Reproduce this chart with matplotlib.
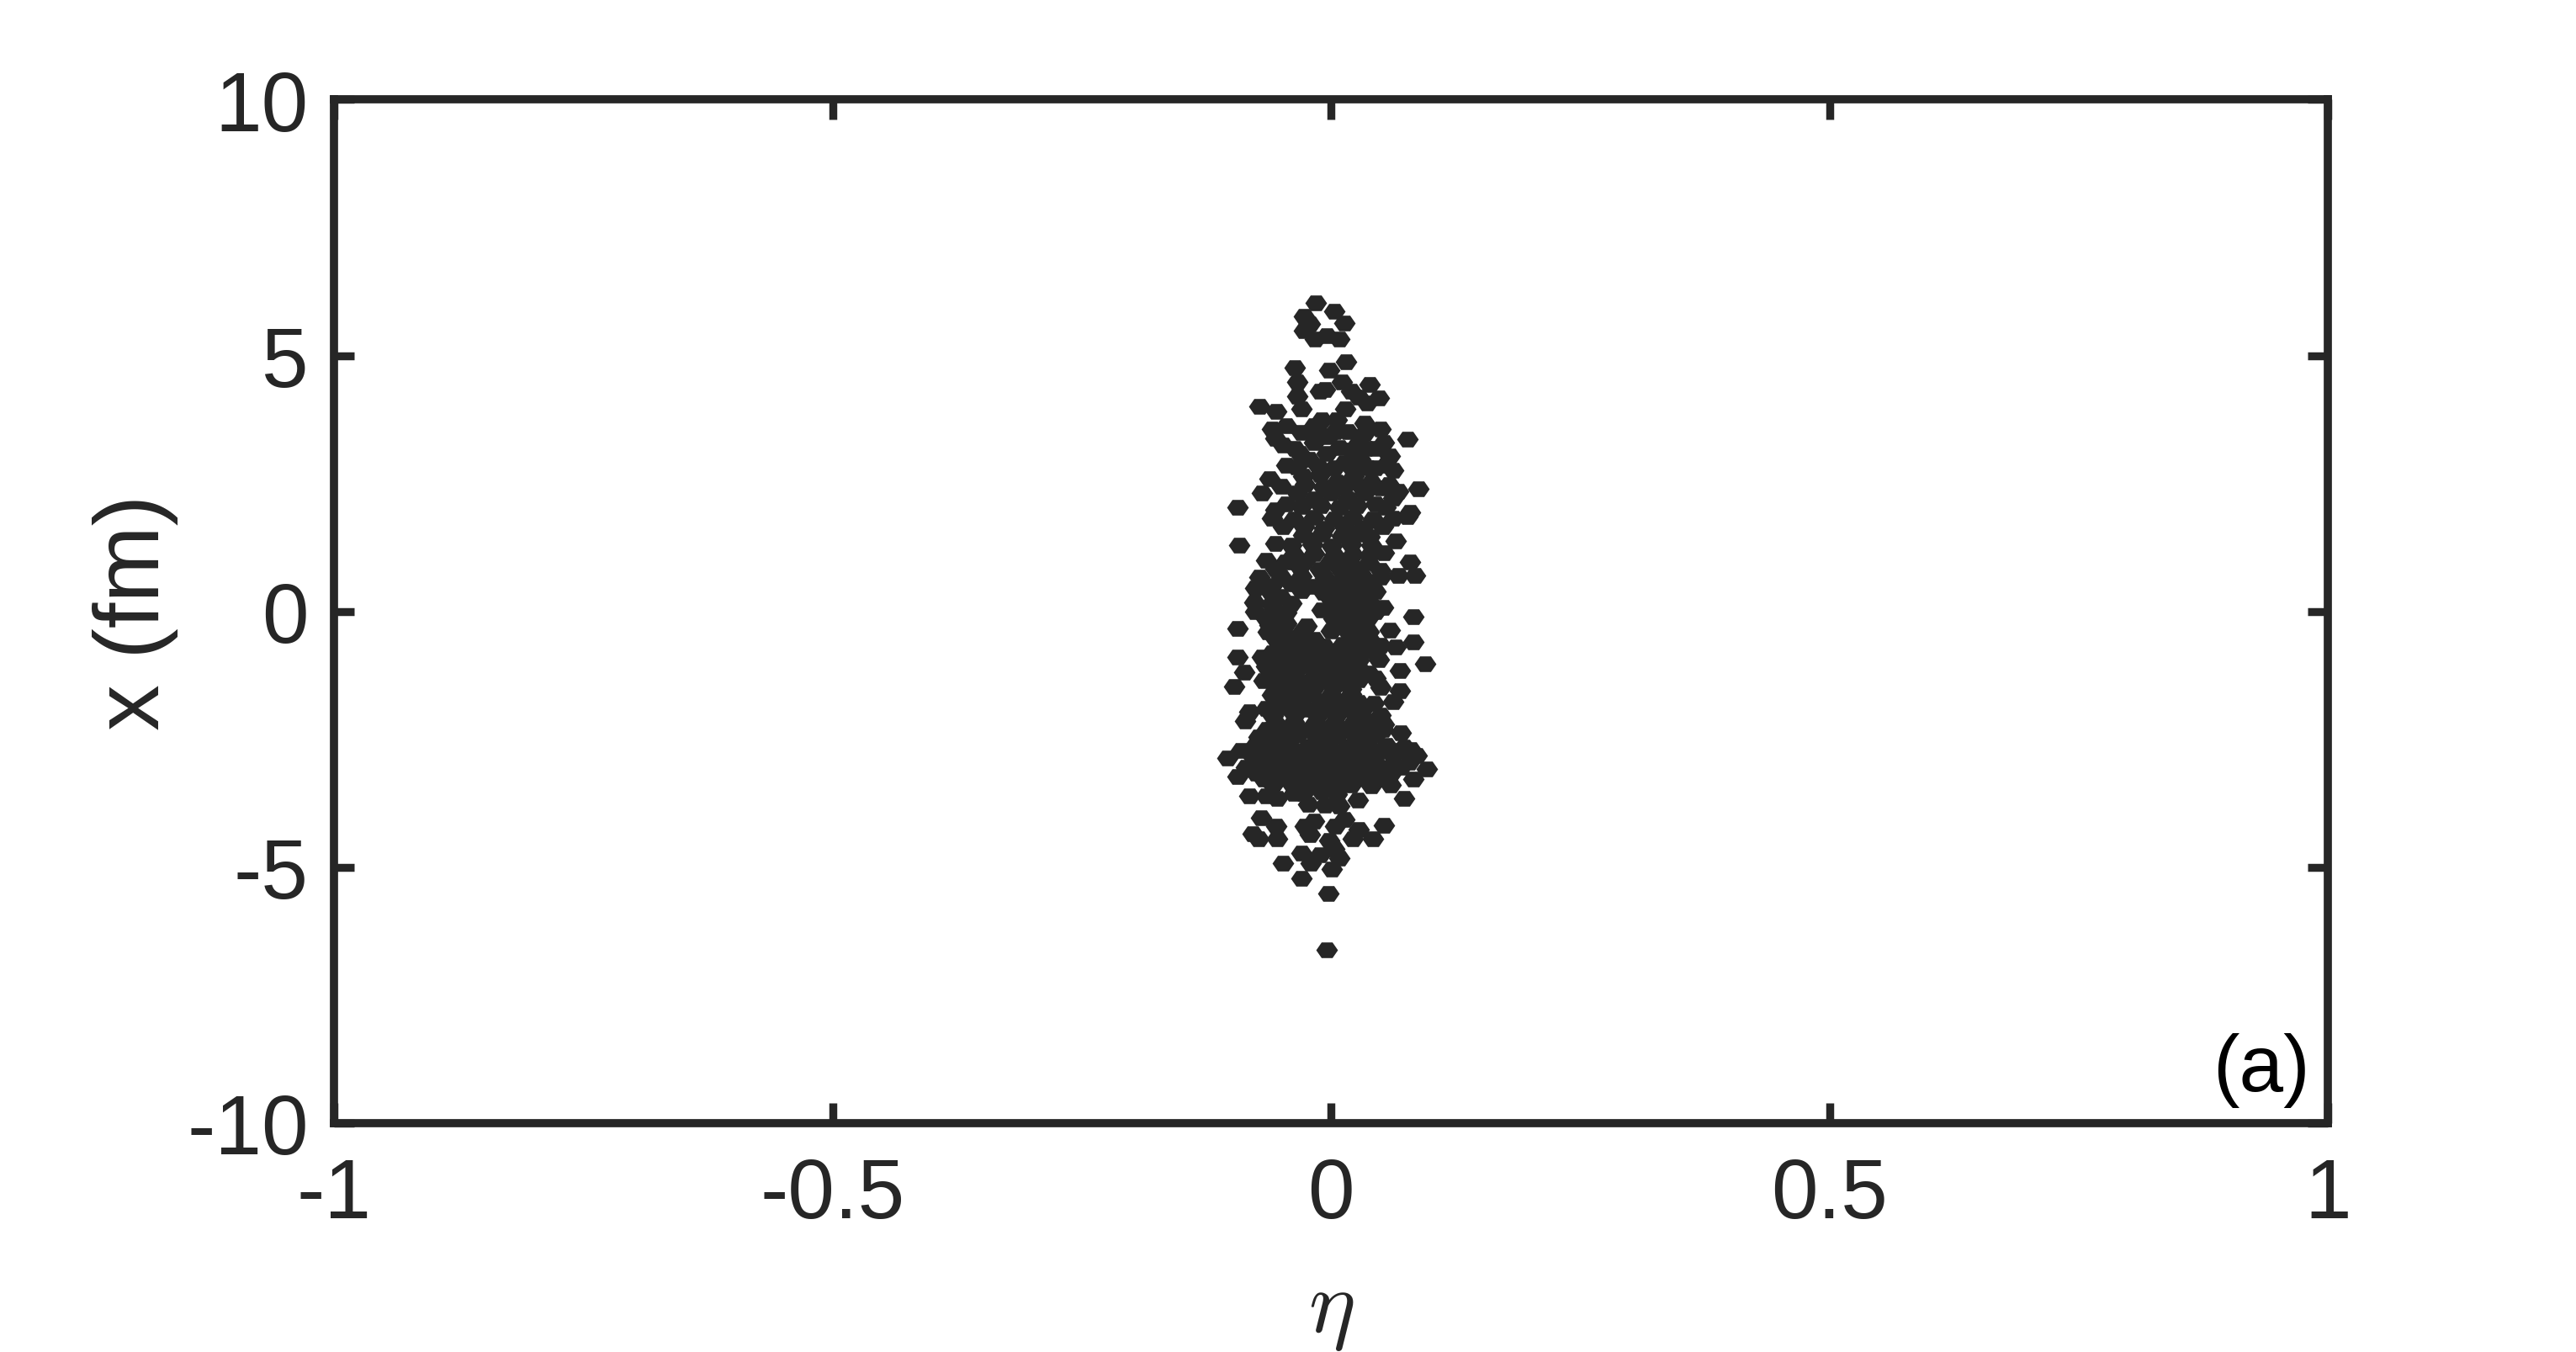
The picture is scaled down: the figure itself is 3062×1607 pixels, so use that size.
import matplotlib
matplotlib.use("Agg")
import matplotlib.pyplot as plt
from matplotlib.path import Path
import numpy as np

plt.rcParams['font.family'] = ['Liberation Sans', 'DejaVu Sans']
plt.rcParams['axes.unicode_minus'] = False
plt.rcParams['mathtext.fontset'] = 'cm'

# ---- data: (eta, x [fm]) ----
upper_pts = [
    (-0.015, 6.03), (0.003, 5.86), (-0.027, 5.77), (0.013, 5.64), (-0.021, 5.62),
    (-0.027, 5.49), (-0.016, 5.33), (-0.004, 5.38), (0.008, 5.33),
    (-0.036, 4.77), (-0.002, 4.72), (0.015, 4.88), (0.039, 4.44), (-0.034, 4.48),
    (-0.011, 4.31), (0.011, 4.48), (0.048, 4.17),
    (-0.072, 4.01), (-0.055, 3.90), (-0.034, 4.20), (-0.006, 4.34), (0.020, 4.31),
    (0.028, 4.18), (0.036, 4.07), (0.014, 3.96), (-0.030, 3.96),
]

mid_upper_pts = [
    (-0.045, 3.63), (-0.059, 3.57), (-0.056, 3.38), (-0.048, 3.25), (-0.017, 3.63),
    (-0.009, 3.74), (0.006, 3.74), (0.034, 3.68), (0.050, 3.57), (0.053, 3.30),
    (0.045, 3.19), (0.059, 3.03), (0.062, 2.75), (0.062, 2.21), (0.079, 1.93),
    (0.077, 3.36), (0.088, 2.40),
    (-0.045, 2.86), (-0.062, 2.59), (-0.069, 2.31), (-0.056, 1.98), (-0.045, 2.10),
    (-0.031, 3.08), (-0.094, 2.03),
    (-0.017, 3.30), (-0.003, 3.41), (0.017, 3.52), (0.028, 3.30), (-0.022, 2.97),
    (-0.004, 3.08), (0.013, 2.90), (0.029, 2.97), (0.045, 2.80), (-0.028, 2.64),
    (-0.011, 2.67), (0.006, 2.53), (0.023, 2.64), (0.040, 2.53), (-0.034, 2.31),
    (-0.017, 2.20), (0.000, 2.31), (0.017, 2.20), (0.034, 2.31), (0.050, 2.42),
    (0.045, 2.10), (0.067, 2.35),
]

mid_upper_fill_pts = [
    (-0.030, 3.50), (-0.012, 3.50), (0.004, 3.52), (0.034, 3.48),
    (-0.036, 3.18), (0.008, 3.20), (0.020, 3.16), (0.035, 3.18),
    (-0.035, 2.82), (-0.013, 2.84), (0.003, 2.80), (0.020, 2.83), (0.037, 2.81), (0.055, 2.85),
    (-0.050, 2.45), (-0.026, 2.47), (-0.008, 2.43), (0.014, 2.46), (0.030, 2.44), (0.058, 2.47),
    (-0.030, 2.05), (-0.010, 2.07), (0.008, 2.03), (0.026, 2.06), (0.055, 2.04),
]

middle_edge_pts = [
    (0.077, 1.85), (-0.092, 1.30), (-0.056, 1.33), (-0.065, 1.00), (0.065, 1.38),
    (0.079, 0.97), (0.084, 0.70), (0.067, 0.70), (-0.072, 0.67), (-0.076, 0.45),
    (-0.077, 0.18), (-0.076, -0.01), (0.083, -0.11), (0.052, 0.07), (-0.094, -0.34),
    (-0.063, -0.40), (0.059, -0.37), (0.083, -0.60), (0.065, -0.70), (-0.094, -0.89),
    (-0.069, -0.89), (0.094, -1.02), (0.069, -1.15), (-0.087, -1.19), (0.045, -1.30),
    (-0.097, -1.47), (0.069, -1.55), (0.043, -1.79), (-0.082, -1.96), (-0.086, -2.15),
    (0.070, -2.37), (-0.073, -2.45),
]

middle_core_pts = [
    (-0.059, 1.82), (-0.037, 1.80), (-0.017, 1.83), (0.003, 1.81), (0.022, 1.84), (0.042, 1.80), (0.062, 1.82),
    (-0.028, 1.49), (-0.009, 1.51), (0.011, 1.47), (0.028, 1.50), (0.039, 1.46),
    (-0.037, 1.11), (-0.017, 1.13), (0.003, 1.09), (0.022, 1.12), (0.039, 1.10), (0.053, 1.14),
    (-0.056, 0.84), (-0.031, 0.86), (-0.011, 0.82), (0.008, 0.85), (0.028, 0.83), (0.050, 0.80),
    (-0.059, 0.51), (-0.040, 0.53), (-0.017, 0.49), (0.003, 0.52), (0.022, 0.50), (0.039, 0.54),
    (-0.051, 0.29), (-0.003, 0.30), (0.017, 0.27), (0.034, 0.31),
    (-0.056, 0.01), (-0.045, -0.02), (-0.009, 0.02), (0.011, 0.00), (0.028, 0.03), (0.045, -0.01),
    (-0.062, -0.26), (-0.045, -0.24), (-0.025, -0.28), (0.011, -0.25), (0.028, -0.27),
    (-0.056, -0.53), (-0.037, -0.51), (-0.017, -0.55), (0.022, -0.52), (0.039, -0.54),
    (-0.059, -0.81), (-0.040, -0.79), (-0.020, -0.83), (0.000, -0.80), (0.020, -0.82), (0.039, -0.78),
    (-0.065, -1.08), (-0.045, -1.10), (-0.025, -1.06), (-0.006, -1.09), (0.014, -1.07), (0.028, -1.11),
    (-0.068, -1.36), (-0.048, -1.34), (-0.028, -1.38), (-0.009, -1.35), (0.011, -1.37), (0.028, -1.33),
    (-0.059, -1.63), (-0.040, -1.65), (-0.020, -1.61), (0.000, -1.64), (0.020, -1.62),
    (-0.065, -1.90), (-0.045, -1.88), (-0.023, -1.92), (-0.003, -1.89), (0.017, -1.91), (0.034, -1.87),
    (-0.056, -2.18), (-0.037, -2.16), (-0.017, -2.20), (0.003, -2.17), (0.022, -2.19), (0.039, -2.15), (0.053, -2.20),
    (-0.054, -2.45), (-0.034, -2.43), (-0.014, -2.47), (0.006, -2.44), (0.025, -2.46), (0.045, -2.42),
]

middle_fill_pts = [
    (-0.048, 1.65), (-0.027, 1.66), (-0.007, 1.63), (0.013, 1.66), (0.032, 1.64), (0.052, 1.65),
    (-0.040, 1.30), (-0.019, 1.31), (0.001, 1.28), (0.020, 1.31), (0.040, 1.29),
    (-0.046, 0.97), (-0.026, 0.98), (-0.001, 0.96), (0.018, 0.98), (0.038, 0.95),
    (-0.050, 0.67), (-0.030, 0.68), (-0.006, 0.66), (0.013, 0.69), (0.033, 0.66), (0.050, 0.67),
    (-0.062, 0.40), (-0.030, 0.41), (-0.008, 0.38), (0.012, 0.40), (0.030, 0.42), (0.045, 0.39),
    (-0.060, 0.15), (-0.040, 0.16), (0.006, 0.14), (0.025, 0.16), (0.040, 0.13),
    (-0.066, -0.12), (-0.050, -0.11), (0.002, -0.13), (0.020, -0.11), (0.037, -0.14),
    (-0.050, -0.40), (-0.030, -0.41), (0.000, -0.39), (0.018, -0.42), (0.038, -0.40),
    (-0.046, -0.67), (-0.027, -0.66), (-0.007, -0.68), (0.012, -0.65), (0.031, -0.68), (0.050, -0.66),
    (-0.052, -0.95), (-0.032, -0.94), (-0.012, -0.96), (0.008, -0.93), (0.028, -0.96), (0.048, -0.94),
    (-0.057, -1.22), (-0.036, -1.21), (-0.016, -1.23), (0.004, -1.20), (0.021, -1.23), (0.038, -1.21),
    (-0.054, -1.50), (-0.036, -1.49), (-0.018, -1.51), (0.002, -1.48), (0.020, -1.51), (0.050, -1.49),
    (-0.052, -1.77), (-0.031, -1.76), (-0.010, -1.78), (0.010, -1.75), (0.028, -1.78), (0.062, -1.76),
    (-0.058, -2.04), (-0.036, -2.03), (-0.014, -2.05), (0.006, -2.02), (0.026, -2.05), (0.050, -2.03),
    (-0.064, -2.31), (-0.046, -2.30), (-0.026, -2.32), (-0.006, -2.29), (0.014, -2.32), (0.032, -2.30), (0.052, -2.31),
]

lower_edge_pts = [
    (-0.104, -2.86), (-0.094, -3.22), (-0.076, -2.62), (0.086, -2.81), (0.096, -3.08),
    (0.083, -3.27), (0.073, -3.66), (-0.082, -3.60), (-0.054, -3.66), (0.027, -3.68),
    (-0.070, -4.04), (-0.055, -4.20), (-0.079, -4.34), (-0.073, -4.45), (-0.054, -4.45),
    (-0.026, -4.20), (-0.017, -4.10), (0.013, -4.07), (0.004, -4.20), (0.028, -4.26),
    (0.022, -4.45), (0.042, -4.45), (0.053, -4.18), (-0.021, -4.37), (-0.002, -4.48),
    (0.003, -4.64), (-0.030, -4.72), (-0.011, -4.75), (0.008, -4.83), (-0.020, -4.92),
    (-0.048, -4.92), (0.001, -5.03), (-0.030, -5.22), (-0.003, -5.52), (-0.004, -6.61),
]

lower_core_pts = [
    (-0.062, -2.62), (-0.042, -2.60), (-0.023, -2.64), (-0.003, -2.61), (0.017, -2.63), (0.036, -2.59), (0.056, -2.62), (0.073, -2.65),
    (-0.079, -2.83), (-0.059, -2.85), (-0.040, -2.81), (-0.020, -2.84), (0.000, -2.82), (0.020, -2.86), (0.039, -2.83), (0.062, -2.80),
    (-0.085, -3.05), (-0.065, -3.03), (-0.045, -3.07), (-0.025, -3.04), (-0.006, -3.06), (0.014, -3.02), (0.034, -3.05), (0.053, -3.08), (0.070, -3.04),
    (-0.068, -3.27), (-0.048, -3.25), (-0.028, -3.29), (-0.009, -3.26), (0.011, -3.28), (0.031, -3.24), (0.050, -3.27),
    (-0.065, -3.60), (-0.037, -3.56), (-0.028, -3.55), (-0.009, -3.53), (0.006, -3.57),
    (-0.023, -3.77), (-0.006, -3.79), (0.008, -3.80),
    (-0.090, -2.72), (-0.069, -2.73), (-0.050, -2.71), (-0.030, -2.74), (-0.010, -2.72), (0.010, -2.73), (0.030, -2.71), (0.050, -2.74), (0.068, -2.72), (0.080, -2.70),
    (-0.075, -2.94), (-0.055, -2.95), (-0.035, -2.93), (-0.015, -2.96), (0.004, -2.94), (0.024, -2.95), (0.044, -2.93), (0.062, -2.96), (0.078, -2.94),
    (-0.075, -3.16), (-0.056, -3.17), (-0.036, -3.15), (-0.017, -3.18), (0.003, -3.16), (0.022, -3.17), (0.042, -3.15), (0.060, -3.18),
    (-0.058, -3.40), (-0.038, -3.41), (-0.018, -3.39), (0.002, -3.42), (0.020, -3.40), (0.040, -3.41), (0.060, -3.39),
]

x_ticks = [-1, -0.5, 0, 0.5, 1]
x_tick_labels = ['-1', '-0.5', '0', '0.5', '1']
y_ticks = [-10, -5, 0, 5, 10]
y_tick_labels = ['-10', '-5', '0', '5', '10']

all_pts = (upper_pts + mid_upper_pts + mid_upper_fill_pts + middle_edge_pts
           + middle_core_pts + middle_fill_pts + lower_edge_pts + lower_core_pts)
eta = np.array([p[0] for p in all_pts])
xfm = np.array([p[1] for p in all_pts])

# ---- styling ----
DARK = '#262626'
dpi = 200
fig = plt.figure(figsize=(3062 / dpi, 1608 / dpi), dpi=dpi)
ax = fig.add_axes([0.1297, 0.1692, 0.7740, 0.7565])

hex_marker = Path([(1, 0), (0.5, 0.72), (-0.5, 0.72), (-1, 0), (-0.5, -0.72), (0.5, -0.72), (1, 0)],
                  [Path.MOVETO] + [Path.LINETO] * 5 + [Path.CLOSEPOLY])

ax.scatter(eta, xfm, marker=hex_marker, s=9.3 ** 2, color=DARK, linewidths=0)

ax.set_xlim(-1, 1)
ax.set_ylim(-10, 10)
ax.set_xticks(x_ticks)
ax.set_xticklabels(x_tick_labels)
ax.set_yticks(y_ticks)
ax.set_yticklabels(y_tick_labels)

for s in ax.spines.values():
    s.set_linewidth(3.5)
    s.set_color(DARK)
ax.tick_params(direction='in', length=8.6, width=3.4, color=DARK,
               top=True, right=True, labelsize=36, labelcolor=DARK, pad=11)
ax.tick_params(axis='x', pad=14)

ax.set_xlabel(r'$\eta$', fontsize=38, color=DARK)
ax.xaxis.set_label_coords(0.5, -0.142)
ax.set_ylabel('x (fm)', fontsize=39.5, color=DARK)
ax.yaxis.set_label_coords(-0.078, 0.5)

ax.text(0.991, 0.032, '(a)', transform=ax.transAxes, ha='right', va='baseline',
        fontsize=34, color='black')

fig.savefig('out.png', dpi=dpi, facecolor='white')
